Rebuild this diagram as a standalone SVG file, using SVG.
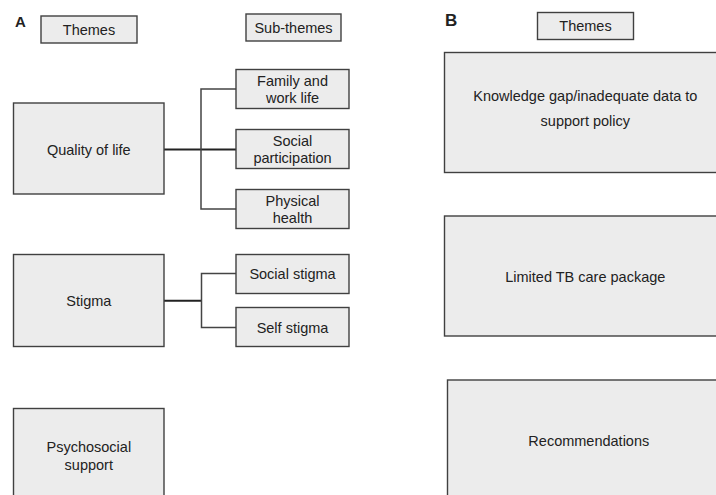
<svg xmlns="http://www.w3.org/2000/svg" width="716" height="495" viewBox="0 0 716 495">
<style>
.box{fill:#ececec;stroke:#404040;stroke-width:1.4}
.t{font-family:"Liberation Sans",Arial,sans-serif;font-size:14.5px;fill:#222;text-anchor:middle}
.lbl{font-family:"Liberation Sans",Arial,sans-serif;font-weight:bold;fill:#222}
.c{fill:none;stroke:#444;stroke-width:1.5}
.m{fill:none;stroke:#222;stroke-width:2}
</style>
<rect width="716" height="495" fill="#fff"/>
<text class="lbl" x="15" y="27" font-size="15">A</text>
<text class="lbl" x="445" y="26" font-size="17">B</text>
<g id="hdr-themes-a"><rect class="box" x="41" y="16" width="96" height="27"/><text class="t" x="89" y="34.5">Themes</text></g>
<g id="hdr-subthemes"><rect class="box" x="246" y="14" width="95" height="27"/><text class="t" x="293.5" y="33">Sub-themes</text></g>
<g id="hdr-themes-b"><rect class="box" x="537.5" y="12.5" width="96" height="27"/><text class="t" x="585.5" y="31">Themes</text></g>
<g id="connectors">
<path class="m" d="M164 149.5H236"/>
<path class="c" d="M236 89H201V209H236"/>
<path class="m" d="M164 300.7H201.5"/>
<path class="c" d="M236 273.5H201.5V327.5H236"/>
</g>
<g id="quality"><rect class="box" x="13.5" y="103" width="150.5" height="91"/><text class="t" x="88.8" y="155">Quality of life</text></g>
<g id="family"><rect class="box" x="236" y="69.5" width="113" height="39"/><text class="t" x="292.5" y="86">Family and</text><text class="t" x="292.5" y="103.3">work life</text></g>
<g id="social"><rect class="box" x="236" y="129.5" width="113" height="39"/><text class="t" x="292.5" y="146">Social</text><text class="t" x="292.5" y="163.3">participation</text></g>
<g id="physical"><rect class="box" x="236" y="189.5" width="113" height="39"/><text class="t" x="292.5" y="206">Physical</text><text class="t" x="292.5" y="223">health</text></g>
<g id="stigma"><rect class="box" x="13.5" y="254.5" width="150.5" height="92"/><text class="t" x="88.8" y="306">Stigma</text></g>
<g id="social-stigma"><rect class="box" x="236" y="254.5" width="113" height="39"/><text class="t" x="292.5" y="279.3">Social stigma</text></g>
<g id="self-stigma"><rect class="box" x="236" y="307.5" width="113" height="39"/><text class="t" x="292.5" y="332.7">Self stigma</text></g>
<g id="psychosocial"><rect class="box" x="13.5" y="408.5" width="150.5" height="96"/><text class="t" x="88.8" y="452.3">Psychosocial</text><text class="t" x="88.8" y="469.5">support</text></g>
<g id="knowledge"><rect class="box" x="444.5" y="52.5" width="282" height="120"/><text class="t" x="585.3" y="101">Knowledge gap/inadequate data to</text><text class="t" x="585.3" y="126">support policy</text></g>
<g id="limited"><rect class="box" x="444.5" y="216" width="282" height="120"/><text class="t" x="585.3" y="282.3">Limited TB care package</text></g>
<g id="recommendations"><rect class="box" x="447.5" y="380" width="282" height="125"/><text class="t" x="588.8" y="445.7">Recommendations</text></g>
</svg>
